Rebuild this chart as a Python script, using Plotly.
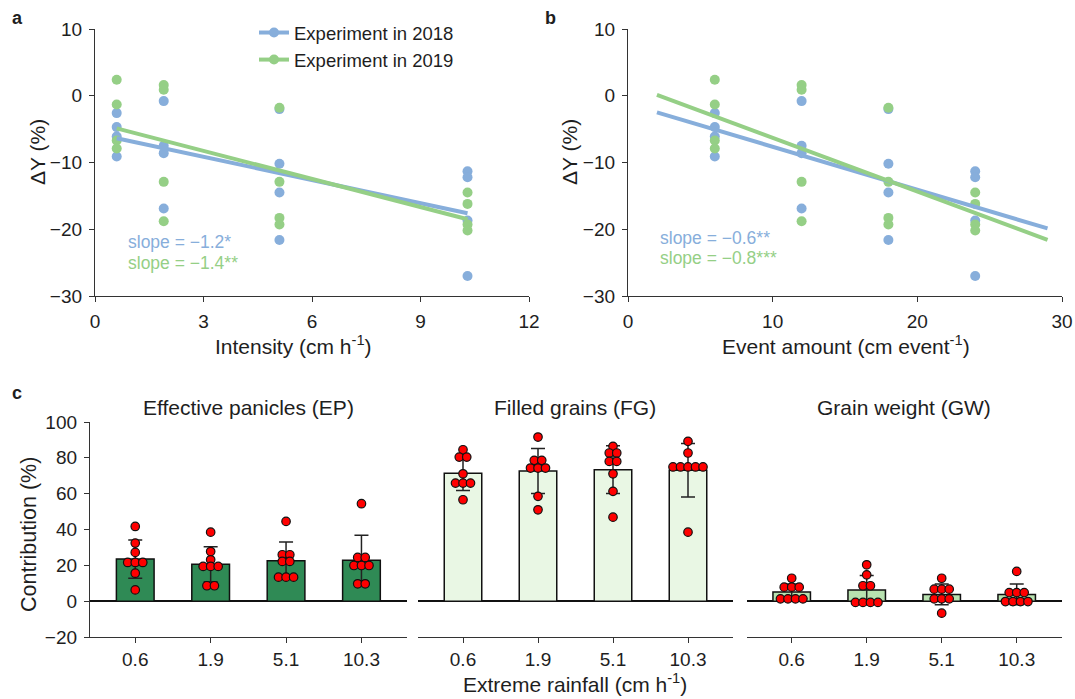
import numpy as np
import plotly.graph_objects as go

# ---------------- data ----------------
intensity = [0.6, 1.9, 5.1, 10.3]          # cm h-1
event_amount = [6, 12, 18, 24]             # cm event-1

# yield change (%) per treatment, four plots per year
dy_2018 = [
    [-2.6, -4.7, -6.1, -9.1],
    [-0.8, -7.5, -8.6, -16.9],
    [-2.0, -10.2, -14.5, -21.6],
    [-11.3, -12.2, -18.7, -27.0],
]
dy_2019 = [
    [2.4, -1.3, -6.7, -7.9],
    [1.6, 0.9, -12.9, -18.8],
    [-1.8, -12.9, -18.3, -19.3],
    [-14.5, -16.2, -19.3, -20.2],
]
signif_a = ["*", "**"]
signif_b = ["**", "***"]

rainfall_labels = ["0.6", "1.9", "5.1", "10.3"]

# contribution (%) of each yield component
ep = [
    [41.7, 32.4, 27.2, 21.6, 21.6, 21.6, 15.6, 6.3],
    [38.5, 27.7, 23.1, 19.4, 19.4, 19.4, 8.6, 8.6],
    [44.5, 25.9, 25.9, 22.2, 22.2, 13.4, 13.4, 13.4],
    [54.4, 24.4, 24.4, 19.9, 19.9, 19.9, 9.7, 9.7],
]
fg = [
    [84.5, 80.4, 80.4, 71.1, 65.9, 65.9, 65.9, 56.6],
    [91.6, 78.6, 78.6, 74.3, 74.3, 74.3, 58.5, 51.0],
    [86.4, 82.7, 82.7, 78.0, 78.0, 71.1, 61.3, 46.9],
    [89.2, 82.7, 74.9, 74.9, 74.9, 74.9, 74.9, 38.5],
]
gw = [
    [12.8, 7.8, 7.8, 7.8, 1.3, 1.3, 1.3, 1.3],
    [20.3, 14.7, 8.6, 8.6, -0.7, -0.7, -0.7, -0.7],
    [12.8, 6.7, 6.7, 6.7, 1.3, 1.3, 1.3, -6.7],
    [16.6, 4.8, 4.8, 4.8, -0.2, -0.2, -0.2, -0.2],
]
component_titles = ["Effective panicles (EP)", "Filled grains (FG)", "Grain weight (GW)"]

# ---------------- styles ----------------
W, H = 1075, 699
FONT = "Liberation Sans, Arial, sans-serif"
TXT = "#1e1e1e"
BLUE = "#87aedb"
GREEN = "#95cf86"
AXIS = "#333333"
BAR_FILLS = ["#2f8a55", "#e9f7e4", "#b8e2b0"]


def px_x(p):
    return p / W


def px_y(p):
    return 1 - p / H


def swarm(values, center, step=0.1):
    """Spread equal values side by side around the category centre."""
    counts = {}
    for v in values:
        counts[v] = counts.get(v, 0) + 1
    seen = {}
    xs = []
    for v in values:
        k = seen.get(v, 0)
        seen[v] = k + 1
        xs.append(center + (k - (counts[v] - 1) / 2) * step)
    return xs


fig = go.Figure()

years = [("Experiment in 2018", dy_2018, BLUE), ("Experiment in 2019", dy_2019, GREEN)]

# ---------------- panels a and b ----------------
panels = [
    dict(xs=intensity, xa="x", ya="y", line_span=None, signif=signif_a,
         label_x=126, label_y=[242, 263]),
    dict(xs=event_amount, xa="x2", ya="y2", line_span=(2.0, 29.0), signif=signif_b,
         label_x=658, label_y=[238, 258]),
]

annotations = []
for p in panels:
    for name, data, col in years:
        xv = np.repeat(p["xs"], [len(g) for g in data])
        yv = np.concatenate([np.array(g, float) for g in data])
        fig.add_trace(go.Scatter(x=xv, y=yv, mode="markers", xaxis=p["xa"], yaxis=p["ya"],
                                 marker=dict(size=10, color=col), showlegend=False,
                                 hoverinfo="x+y"))
    for i, (name, data, col) in enumerate(years):
        xv = np.repeat(p["xs"], [len(g) for g in data])
        yv = np.concatenate([np.array(g, float) for g in data])
        slope, icpt = np.polyfit(xv, yv, 1)
        lo, hi = p["line_span"] if p["line_span"] else (min(p["xs"]), max(p["xs"]))
        lx = np.array([lo, hi])
        fig.add_trace(go.Scatter(x=lx, y=slope * lx + icpt, mode="lines",
                                 xaxis=p["xa"], yaxis=p["ya"],
                                 line=dict(color=col, width=4), showlegend=False))
        txt = ("slope = %.1f" % slope).replace("-", "\u2212") + p["signif"][i]
        annotations.append(dict(text=txt, x=px_x(p["label_x"]), y=px_y(p["label_y"][i]),
                                xref="paper", yref="paper", xanchor="left", yanchor="middle",
                                showarrow=False, font=dict(size=17.5, color=col, family=FONT)))

# legend entries
for name, data, col in years:
    fig.add_trace(go.Scatter(x=[None], y=[None], mode="lines+markers", name=name,
                             xaxis="x", yaxis="y",
                             line=dict(color=col, width=4), marker=dict(size=10, color=col)))

# ---------------- panel c ----------------
components = [ep, fg, gw]
c_axes = [("x3", "y3"), ("x4", "y4"), ("x5", "y5")]
for comp, fill, (xa, ya) in zip(components, BAR_FILLS, c_axes):
    means = [float(np.mean(g)) for g in comp]
    sds = [float(np.std(g, ddof=1)) for g in comp]
    cats = list(range(len(comp)))
    fig.add_trace(go.Bar(x=cats, y=means, width=0.5, xaxis=xa, yaxis=ya, showlegend=False,
                         marker=dict(color=fill, line=dict(color="#111111", width=1.5)),
                         error_y=dict(type="data", array=sds, visible=True,
                                      color="#222222", thickness=1.5, width=7)))
    dx, dy = [], []
    for c, g in zip(cats, comp):
        dx += swarm(g, c)
        dy += g
    fig.add_trace(go.Scatter(x=dx, y=dy, mode="markers", xaxis=xa, yaxis=ya, showlegend=False,
                             marker=dict(size=8.5, color="#ff0000",
                                         line=dict(color="#111111", width=1.2))))

# ---------------- axes ----------------
tickfont = dict(size=19, color=TXT, family=FONT)
common = dict(showgrid=False, zeroline=False, showline=True, linecolor=AXIS, linewidth=1.3,
              ticks="outside", ticklen=5, tickwidth=1.3, tickcolor=AXIS, tickfont=tickfont,
              ticklabelstandoff=3, automargin=False)

ya_dom = [px_y(296), px_y(29)]
fig.update_layout(
    xaxis=dict(domain=[px_x(95), px_x(529)], range=[0, 12], tickvals=[0, 3, 6, 9, 12],
               anchor="y", **common),
    yaxis=dict(domain=ya_dom, range=[-30, 10], tickvals=[-30, -20, -10, 0, 10],
               anchor="x", **common),
    xaxis2=dict(domain=[px_x(628), px_x(1062)], range=[0, 30], tickvals=[0, 10, 20, 30],
                anchor="y2", **common),
    yaxis2=dict(domain=ya_dom, range=[-30, 10], tickvals=[-30, -20, -10, 0, 10],
                anchor="x2", **common),
)

c_dom_y = [px_y(637), px_y(422)]
c_dom_x = [[px_x(90), px_x(406.7)], [px_x(418), px_x(733)], [px_x(746.7), px_x(1061.7)]]
for k, (xa, ya) in enumerate(c_axes):
    xkey = "xaxis" + xa[1:]
    ykey = "yaxis" + ya[1:]
    xcfg = dict(common)
    xcfg.update(ticklabelstandoff=0)
    fig.layout[xkey] = dict(domain=c_dom_x[k], range=[-0.6, 3.6], tickvals=[0, 1, 2, 3],
                            ticktext=rainfall_labels, anchor=ya, **xcfg)
    if k == 0:
        ycfg = dict(common)
        ycfg.update(zeroline=True, zerolinecolor="#111111", zerolinewidth=1.6)
        fig.layout[ykey] = dict(domain=c_dom_y, range=[-20, 100],
                                tickvals=[-20, 0, 20, 40, 60, 80, 100], anchor=xa, **ycfg)
    else:
        fig.layout[ykey] = dict(domain=c_dom_y, range=[-20, 100], anchor=xa, showgrid=False,
                                showline=False, showticklabels=False, ticks="",
                                automargin=False,
                                zeroline=True, zerolinecolor="#111111", zerolinewidth=1.6)


# ---------------- titles and labels ----------------
def label(text, x, y, size=21, angle=0, bold=False, yanchor="middle"):
    annotations.append(dict(text="<b>%s</b>" % text if bold else text,
                            x=px_x(x), y=px_y(y), xref="paper", yref="paper",
                            xanchor="center", yanchor=yanchor, showarrow=False,
                            textangle=angle, font=dict(size=size, color=TXT, family=FONT)))


label("a", 17, 18, size=18, bold=True)
label("b", 550, 18, size=18, bold=True)
label("c", 17, 393, size=18, bold=True)
label("\u0394Y (%)", 37, 152, angle=-90)
label("\u0394Y (%)", 569, 152, angle=-90)
label("Intensity (cm h<sup>-1</sup>)", 293, 345)
label("Event amount (cm event<sup>-1</sup>)", 846, 345)
label("Contribution (%)", 29, 535, size=21.5, angle=-90)
label("Extreme rainfall (cm h<sup>-1</sup>)", 575, 698, size=21, yanchor="bottom")
for k, t in enumerate(component_titles):
    mid = (c_dom_x[k][0] + c_dom_x[k][1]) / 2 * W
    label(t, mid, 407, size=21)

fig.update_layout(
    width=W, height=H, margin=dict(l=0, r=0, t=0, b=0, pad=0, autoexpand=False),
    paper_bgcolor="white", plot_bgcolor="white",
    font=dict(family=FONT, size=19, color=TXT),
    annotations=annotations,
    legend=dict(x=px_x(254), y=px_y(14), xanchor="left", yanchor="top",
                bgcolor="rgba(0,0,0,0)", font=dict(size=18.5, family=FONT, color=TXT),
                tracegroupgap=0, itemwidth=30),
)

fig.write_html("out.html", post_script="document.body.style.margin='0';")
